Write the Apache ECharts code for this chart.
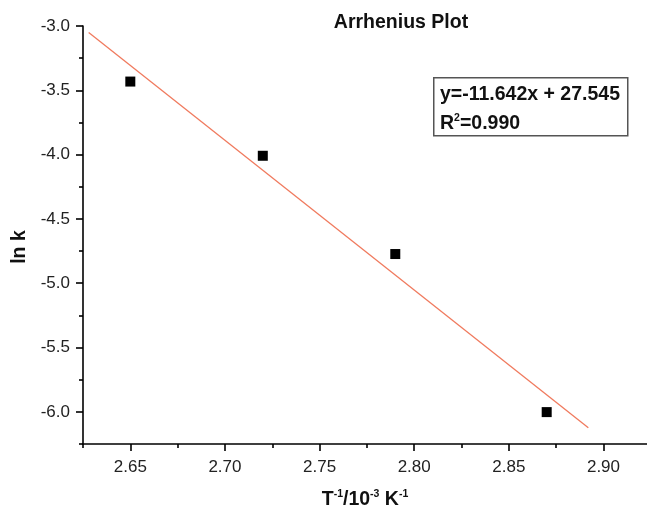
<!DOCTYPE html>
<html>
<head>
<meta charset="utf-8">
<script src="https://cdn.jsdelivr.net/npm/echarts@6/dist/echarts.min.js"></script>
<style>
html,body{margin:0;padding:0;background:#fff;}
#chart{width:647px;height:510px;}
</style>
</head>
<body>
<div id="chart"></div>
<script>
// ---- data ----
var invT = [2.65, 2.72, 2.79, 2.87];
var lnK = [-3.432, -4.009, -4.773, -6.002];
var fitSlope = -11.642;
var fitIntercept = 27.545;
var fitR2 = 0.990;
var fitXRange = [2.628, 2.892];
var xMajorTicks = [2.65, 2.70, 2.75, 2.80, 2.85, 2.90];
var xMinorTicks = [2.625, 2.675, 2.725, 2.775, 2.825, 2.875];
var yMajorTicks = [-3.0, -3.5, -4.0, -4.5, -5.0, -5.5, -6.0];
var yMinorTicks = [-3.25, -3.75, -4.25, -4.75, -5.25, -5.75, -6.25];

var FONT = '"Liberation Sans", Arial, sans-serif';
var points = invT.map(function (x, i) { return [x, lnK[i]]; });
var fitLine = fitXRange.map(function (x) { return [x, fitSlope * x + fitIntercept]; });

var chart = echarts.init(document.getElementById('chart'), null, {renderer: 'canvas'});
var xBase = {
  type: 'value', gridIndex: 0, position: 'bottom',
  min: 2.625, max: 2.923,
  splitLine: {show: false}
};
var yBase = {
  type: 'value', gridIndex: 0, position: 'left',
  min: -6.25, max: -3.0,
  splitLine: {show: false}
};
var supRich = function (size, lh) {
  return {
    n: {fontFamily: FONT, fontWeight: 'bold', fontSize: size, color: '#111', fill: '#111', lineHeight: lh, verticalAlign: 'bottom'},
    s: {fontFamily: FONT, fontWeight: 'bold', fontSize: 10.5, color: '#111', fill: '#111', lineHeight: lh, verticalAlign: 'top'}
  };
};
chart.setOption({
  animation: false,
  backgroundColor: '#fff',
  title: {
    text: 'Arrhenius Plot', left: 396, top: 8, textAlign: 'center',
    textStyle: {fontFamily: FONT, fontWeight: 'bold', fontSize: 19.5, color: '#111'}
  },
  grid: {left: 83, right: 0, top: 26, bottom: 66, containLabel: false, outerBoundsMode: 'none'},
  xAxis: [
    Object.assign({}, xBase, {
      axisLine: {show: true, lineStyle: {color: '#000', width: 1.6}},
      axisTick: {show: true, inside: false, length: 7, customValues: xMajorTicks, lineStyle: {color: '#000', width: 1.6}},
      axisLabel: {show: true, customValues: xMajorTicks, margin: 15, fontFamily: FONT, fontSize: 17, color: '#222',
        formatter: function (v) { return v.toFixed(2); }},
      name: '{n|T}{s|-1}{n|/10}{s|-3}{n| K}{s|-1}',
      nameLocation: 'middle', nameGap: 45,
      nameTextStyle: {rich: supRich(19.5, 21)}
    }),
    Object.assign({}, xBase, {
      axisLine: {show: false},
      axisTick: {show: true, inside: false, length: 4, customValues: xMinorTicks, lineStyle: {color: '#000', width: 1.6}},
      axisLabel: {show: false}
    })
  ],
  yAxis: [
    Object.assign({}, yBase, {
      axisLine: {show: true, lineStyle: {color: '#000', width: 1.6}},
      axisTick: {show: true, inside: false, length: 7, customValues: yMajorTicks, lineStyle: {color: '#000', width: 1.6}},
      axisLabel: {show: true, customValues: yMajorTicks, margin: 13, fontFamily: FONT, fontSize: 17, color: '#222',
        formatter: function (v) { return v.toFixed(1); }},
      name: 'ln k', nameLocation: 'middle', nameGap: 52, nameRotate: 90,
      nameTextStyle: {fontFamily: FONT, fontWeight: 'bold', fontSize: 19.5, color: '#111', padding: [0, 24, 0, 0]}
    }),
    Object.assign({}, yBase, {
      axisLine: {show: false},
      axisTick: {show: true, inside: false, length: 4, customValues: yMinorTicks, lineStyle: {color: '#000', width: 1.6}},
      axisLabel: {show: false}
    })
  ],
  graphic: [
    {
      type: 'rect', left: 433, top: 77, z: 10,
      shape: {width: 194, height: 58},
      style: {fill: '#fff', stroke: '#555', lineWidth: 1.5}
    },
    {
      type: 'text', left: 440, top: 85, z: 11,
      style: {
        text: '{n|y=' + fitSlope.toFixed(3) + 'x + ' + fitIntercept.toFixed(3) + '}',
        rich: supRich(19.5, 21)
      }
    },
    {
      type: 'text', left: 440, top: 113, z: 11,
      style: {
        text: '{n|R}{s|2}{n|=' + fitR2.toFixed(3) + '}',
        rich: supRich(19.5, 21)
      }
    }
  ],
  series: [
    {
      type: 'line', xAxisIndex: 0, yAxisIndex: 0, data: fitLine,
      showSymbol: false, symbol: 'none',
      lineStyle: {color: '#f07a5e', width: 1.3}, z: 2
    },
    {
      type: 'scatter', xAxisIndex: 0, yAxisIndex: 0, data: points,
      symbol: 'rect', symbolSize: 10,
      itemStyle: {color: '#000', opacity: 1}, z: 3
    }
  ]
});
</script>
</body>
</html>
